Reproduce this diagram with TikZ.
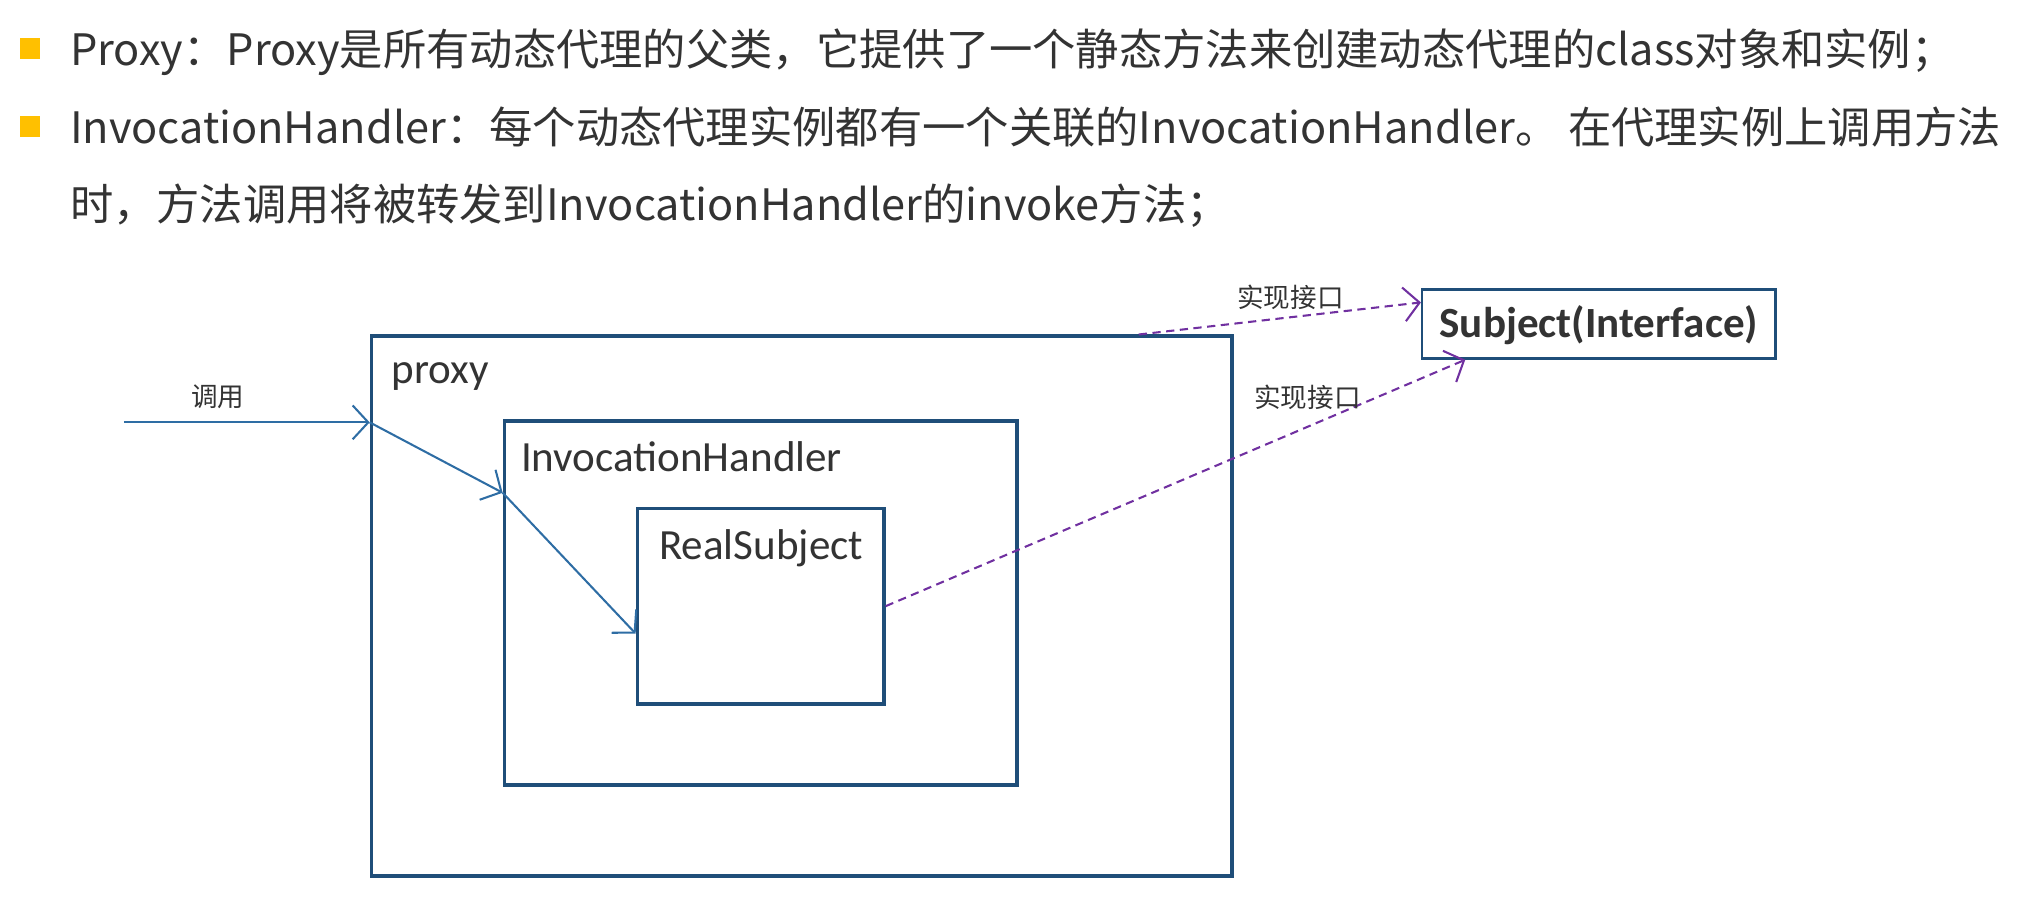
\documentclass[tikz,border=0pt]{standalone}
\usepackage{fontspec}
\setmainfont{Carlito}
\newfontfamily\cjksans{Noto Sans CJK SC}
\usetikzlibrary{arrows.meta,positioning,calc}
\definecolor{Frame}{HTML}{1F4E79}
\definecolor{Flow}{HTML}{2E6DA4}
\definecolor{Impl}{HTML}{7030A0}
\definecolor{Bullet}{HTML}{FFC000}
\definecolor{Ink}{HTML}{333333}
\tikzset{
framebox/.style={draw=Frame, line width=0.8pt, inner sep=0pt},
framelabel/.style={anchor=base west, font=\fontsize{9.4}{11}\selectfont, text=Ink, inner sep=0pt},
flowarrow/.style={-{Straight Barb[length=1.2mm,width=2.6mm]}, draw=Flow, line width=0.45pt},
implarrow/.style={-{Straight Barb[length=1.2mm,width=2.6mm]}, dashed, dash pattern=on 1.8pt off 1.2pt, draw=Impl, line width=0.45pt},
edgelabel/.style={font=\cjksans\fontsize{5.8}{7}\selectfont, text=Ink, inner sep=0pt},
headline/.style={anchor=base west, font=\cjksans\fontsize{9.45}{11}\selectfont, text=Ink, inner sep=0pt},
bulletmark/.style={fill=Bullet, minimum size=1.6mm, inner sep=0pt}
}

\begin{document}
\begin{tikzpicture}
  \useasboundingbox (0,0) rectangle (15.68,-6.90);
  % header
  \node[bulletmark] (b1) at (0.23,-0.37) {};
  \node[bulletmark] (b2) at (0.23,-0.97) {};
  \node[headline] (line1) at (0.53,-0.50) {Proxy：Proxy是所有动态代理的父类，它提供了一个静态方法来创建动态代理的class对象和实例；};
  \node[headline] (line2) at (0.53,-1.10) {InvocationHandler：每个动态代理实例都有一个关联的InvocationHandler。 在代理实例上调用方法};
  \node[headline] (line3) at (0.53,-1.69) {时，方法调用将被转发到InvocationHandler的invoke方法；};
  % nested boxes
  \node[framebox, minimum width=6.60cm, minimum height=4.14cm] (proxy) at (6.15,-4.65) {};
  \node[framebox, minimum width=3.93cm, minimum height=2.79cm] (handler) at (5.835,-4.625) {};
  \node[framebox, minimum width=1.89cm, minimum height=1.50cm] (real) at (5.835,-4.65) {};
  \node[framebox, line width=0.55pt, minimum width=2.71cm, minimum height=0.53cm] (subject) at (12.265,-2.485) {};
  \node[framelabel] (proxylbl) at (3.00,-2.94) {proxy};
  \node[framelabel] (handlerlbl) at (3.99,-3.62) {InvocationHandler};
  \node[framelabel] (reallbl) at (5.05,-4.29) {RealSubject};
  \node[font=\bfseries\fontsize{9.4}{11}\selectfont, text=Ink, inner sep=0pt, anchor=base] (subjectlbl) at (12.265,-2.59) {Subject(Interface)};
  % call path
  \coordinate (callstart) at (0.95,-3.24);
  \coordinate (callin) at (proxy.west |- callstart);
  \coordinate (handlerin) at ($(handler.west |- 0,-3.78)$);
  \coordinate (realin) at ($(real.west |- 0,-4.86)$);
  \draw[flowarrow] (callstart) -- (callin);
  \draw[flowarrow] (callin) -- (handlerin);
  \draw[flowarrow] (handlerin) -- (realin);
  \node[edgelabel] (calllbl) at (1.67,-3.04) {调用};
  % interface links
  \coordinate (proxyout) at ($(proxy.north west)+(5.90,0)$);
  \coordinate (subjectin) at ($(subject.west)+(0,0.165)$);
  \coordinate (realout) at ($(real.east)+(0,0)$);
  \coordinate (subjectbot) at ($(subject.south west)+(0.34,0)$);
  \draw[implarrow] (proxyout) -- (subjectin);
  \draw[implarrow] (realout) -- (subjectbot);
  \node[edgelabel] (impl1) at (9.90,-2.28) {实现接口};
  \node[edgelabel] (impl2) at (10.03,-3.05) {实现接口};
\end{tikzpicture}
\end{document}
